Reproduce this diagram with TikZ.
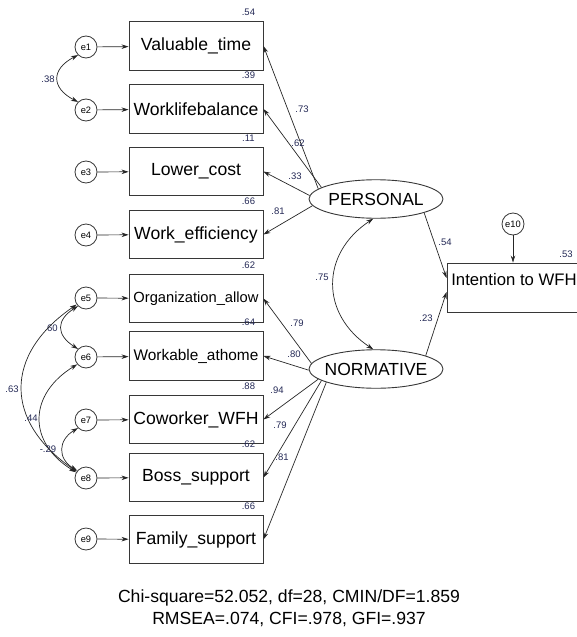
\documentclass[tikz,border=0pt]{standalone}
\usepackage{fontspec}
\setmainfont{Liberation Sans}
\usetikzlibrary{shapes.geometric,arrows.meta,calc}
\definecolor{numcol}{RGB}{35,40,85}
\definecolor{edgecol}{RGB}{55,55,55}

\begin{document}
\begin{tikzpicture}[x=1pt,y=-1pt,
  obs/.style={draw=edgecol,line width=0.9pt,minimum width=134pt,minimum height=48.5pt,
              inner sep=0pt,font=\fontsize{17.6}{20}\selectfont},
  err/.style={circle,draw=edgecol,line width=0.8pt,minimum size=22pt,inner sep=0pt,
              font=\fontsize{9.3}{10}\selectfont},
  lat/.style={ellipse,draw=edgecol,line width=0.9pt,minimum width=134pt,minimum height=38.5pt,
              inner sep=0pt},
  latfont/.style={font=\fontsize{17.5}{20}\selectfont,inner sep=0pt},
  num/.style={inner sep=0pt,text=numcol,font=\fontsize{9.5}{11}\selectfont},
  arr/.style={-{Stealth[length=7pt,width=4.5pt]},line width=0.7pt,draw=black!85},
  cov/.style={{Stealth[length=7pt,width=4.5pt]}-{Stealth[length=7pt,width=4.5pt]},
              line width=0.7pt,draw=black!85}
]
\useasboundingbox (0,0) rectangle (577,637);
\clip (0,0) rectangle (577,637);

% observed indicators
\node[obs] (b1) at (196,46)    {Valuable\_time};
\node[obs] (b2) at (196,109)   {Worklifebalance};
\node[obs] (b3) at (196,171.5) {Lower\_cost};
\node[obs] (b4) at (196,234.5) {Work\_efficiency};
\node[obs,font=\fontsize{14.7}{17}\selectfont] (b5) at (196,298.5) {Organization\_allow};
\node[obs,font=\fontsize{15.4}{18}\selectfont] (b6) at (196,356)   {Workable\_athome};
\node[obs] (b7) at (196,419.5) {Coworker\_WFH};
\node[obs] (b8) at (196,477.5) {Boss\_support};
\node[obs] (b9) at (196,539.5) {Family\_support};

% outcome
\node[obs,minimum height=0pt,text height=22pt,text depth=27pt,
      font=\fontsize{16.7}{20}\selectfont] (INT) at (514,287.5) {Intention to WFH};

% error terms
\node[err] (e1) at (86,47)  {e1};
\node[err] (e2) at (86,110) {e2};
\node[err] (e3) at (86,172) {e3};
\node[err] (e4) at (86,235) {e4};
\node[err] (e5) at (86,298) {e5};
\node[err] (e6) at (86,357) {e6};
\node[err] (e7) at (86,420) {e7};
\node[err] (e8) at (86,478) {e8};
\node[err] (e9) at (86,539) {e9};
\node[err] (e10) at (513,224) {e10};

% latent factors
\node[lat,label={[latfont]center:PERSONAL}]  (P) at (376,199) {};
\node[lat,label={[latfont]center:NORMATIVE}] (N) at (376,369) {};

% error paths
\foreach \i in {1,...,9} \draw[arr] (e\i) -- (b\i);
\draw[arr] (e10.south) -- (e10.south |- INT.north);

% squared multiple correlations
\foreach \i/\v in {1/.54,2/.39,3/.11,4/.66,5/.62,6/.64,7/.88,8/.62,9/.66}
  \node[num] at ([xshift=-15pt,yshift=9pt]b\i.north east) {\v};
\node[num] at (566,254) {.53};

% loadings of PERSONAL
\draw[arr] (P.170) -- (b1.east);
\draw[arr] (P.168) -- (b2.east);
\draw[arr] (P.177) -- (b3.east);
\draw[arr] (P.186) -- (b4.east);
\node[num] at (302,109) {.73};
\node[num] at (298,143) {.62};
\node[num] at (295,176) {.33};
\node[num] at (278,211) {.81};

% loadings of NORMATIVE
\draw[arr] (N.175) -- (b5.east);
\draw[arr] (N.181) -- (b6.east);
\draw[arr] (N.190) -- (b7.east);
\draw[arr] (N.192) -- (b8.east);
\draw[arr] (N.195) -- (b9.east);
\node[num] at (297,323) {.79};
\node[num] at (294,354) {.80};
\node[num] at (277,390) {.94};
\node[num] at (280,425) {.79};
\node[num] at (282,457) {.81};

% structural paths
\draw[arr] (P.-16) -- ([yshift=9.5pt]INT.west);
\draw[arr] (N.15) -- ([yshift=-4.5pt]INT.west);
\node[num] at (445,242) {.54};
\node[num] at (426,318) {.23};

% covariances
\draw[cov] (P.262) .. controls +(-53,35) and +(-53,-35) .. (N.98);
\node[num] at (322,277) {.75};
\draw[cov] (e1.225) .. controls +(-27,14) and +(-27,-14) .. (e2.135);
\node[num] at (48,79) {.38};
\draw[cov] (e5.225) .. controls +(-22,14) and +(-22,-14) .. (e6.135);
\node[num] at (51,328) {.60};
\draw[cov] (e5.215) .. controls +(-73,50) and +(-73,-50) .. (e8.145);
\node[num] at (12,389) {.63};
\draw[cov] (e6.220) .. controls +(-49,30) and +(-49,-30) .. (e8.150);
\node[num] at (31,418) {.44};
\draw[cov] (e7.225) .. controls +(-20,12) and +(-20,-12) .. (e8.140);
\node[num] at (48,449) {-.29};

% fit indices
\node[align=center,inner sep=0pt,font=\fontsize{17.6}{22}\selectfont] (fit) at (289,608)
  {Chi-square=52.052, df=28, CMIN/DF=1.859\\RMSEA=.074, CFI=.978, GFI=.937};
\end{tikzpicture}
\end{document}
